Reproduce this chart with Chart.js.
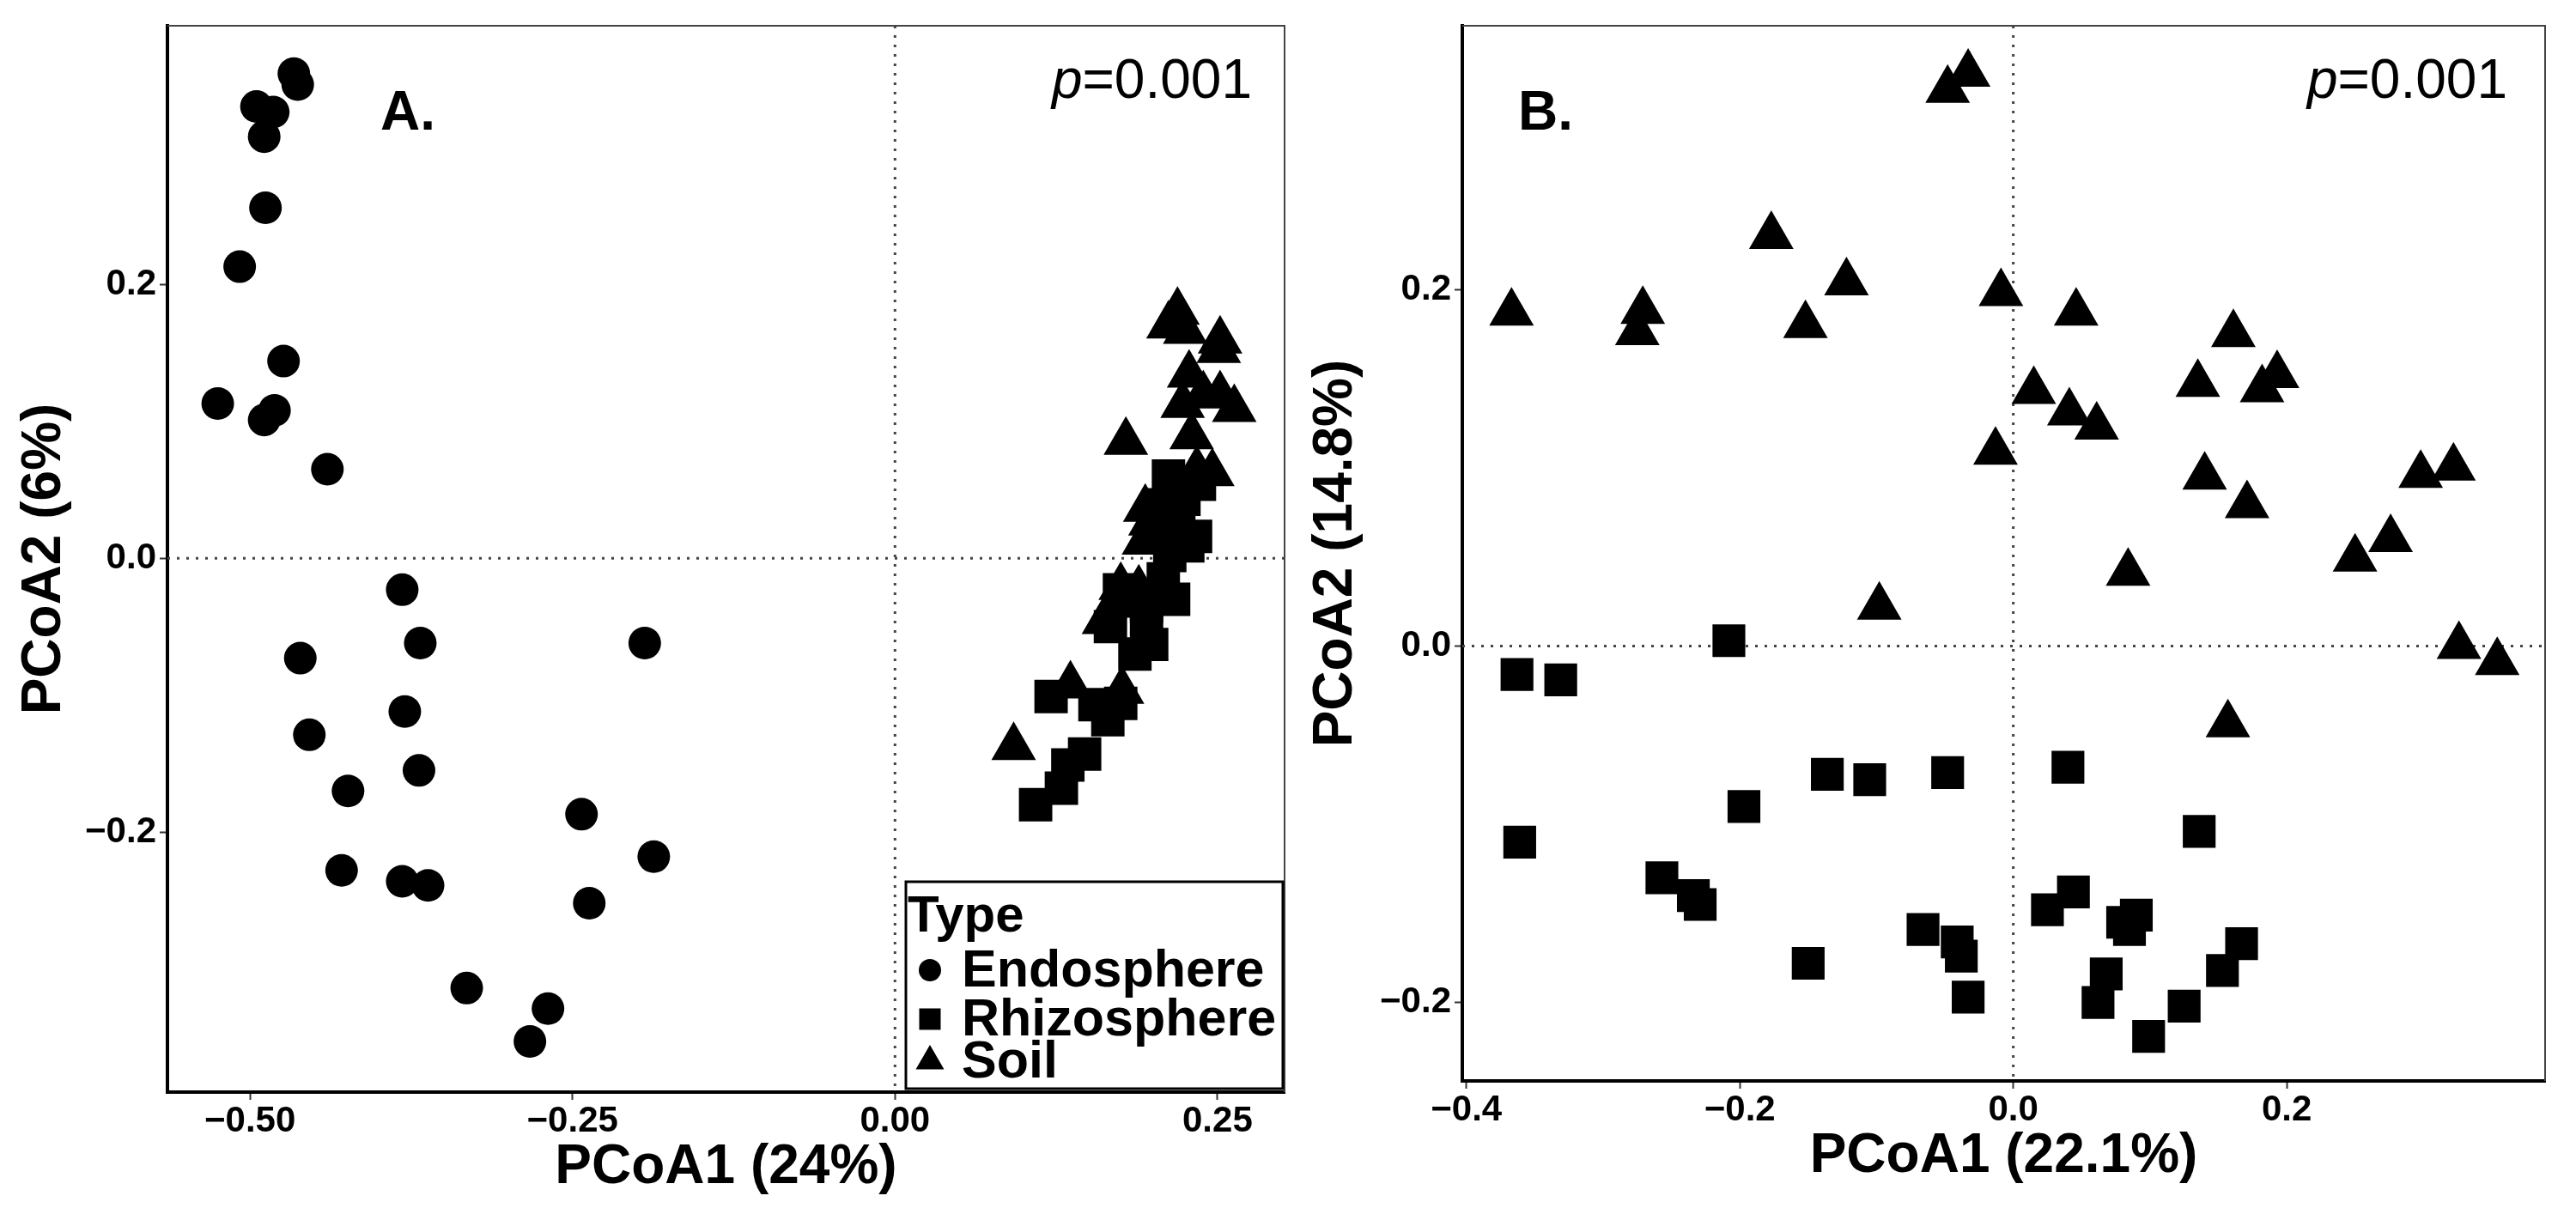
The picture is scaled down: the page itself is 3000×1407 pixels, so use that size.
<!DOCTYPE html>
<html>
<head>
<meta charset="utf-8">
<script src="https://cdn.jsdelivr.net/npm/chart.js@4.4.0/dist/chart.umd.min.js"></script>
<style>
  html, body { margin: 0; padding: 0; background: #fff; }
  #wrap { position: relative; width: 3000px; height: 1407px; }
  #wrap canvas { position: absolute; left: 0; top: 0; }
</style>
</head>
<body>
<div id="wrap">
  <canvas id="chartA" width="3000" height="1407"></canvas>
  <canvas id="chartB" width="3000" height="1407"></canvas>
</div>
<script>
// --- data ---
const typeNames = ['Endosphere', 'Rhizosphere', 'Soil'];

// Panel A
const endoAx = [-0.466, -0.463, -0.495, -0.482, -0.489, -0.488, -0.508, -0.474, -0.525, -0.481, -0.489, -0.440, -0.382, -0.368, -0.194,
  -0.461, -0.380, -0.454, -0.369, -0.424, -0.243, -0.187, -0.429, -0.382, -0.362, -0.237, -0.332, -0.269, -0.283];
const endoAy = [0.354, 0.346, 0.330, 0.326, 0.308, 0.256, 0.213, 0.144, 0.113, 0.108, 0.101, 0.065, -0.023, -0.062, -0.062,
  -0.073, -0.112, -0.129, -0.155, -0.170, -0.187, -0.218, -0.228, -0.236, -0.239, -0.252, -0.314, -0.329, -0.353];
const rhizoAx = [0.212, 0.236, 0.233, 0.227, 0.208, 0.216, 0.174, 0.195, 0.167, 0.206, 0.220, 0.206, 0.213, 0.224, 0.195,
  0.186, 0.199, 0.121, 0.155, 0.175, 0.165, 0.147, 0.134, 0.129, 0.109];
const rhizoAy = [0.060, 0.054, 0.016, 0.009, -0.015, -0.030, -0.023, -0.035, -0.050, 0.039, 0.033, 0.016, 0.002, 0.043, -0.046,
  -0.070, -0.063, -0.101, -0.107, -0.106, -0.118, -0.143, -0.151, -0.168, -0.180];
const soilAx = [0.219, 0.212, 0.225, 0.252, 0.251, 0.228, 0.239, 0.252, 0.263, 0.223, 0.230, 0.179, 0.234, 0.194, 0.198,
  0.193, 0.175, 0.189, 0.171, 0.246, 0.136, 0.176, 0.092, 0.162];
const soilAy = [0.180, 0.170, 0.166, 0.159, 0.152, 0.134, 0.119, 0.119, 0.109, 0.112, 0.089, 0.085, 0.064, 0.036, 0.026,
  0.012, -0.021, -0.023, -0.034, 0.062, -0.093, -0.097, -0.138, -0.046];

// Panel B
const rhizoBx = [-0.208, -0.363, -0.331, -0.136, -0.105, -0.048, 0.040, -0.197, 0.136, -0.361, -0.257, -0.234, -0.229, 0.044, 0.025,
  0.090, 0.080, 0.085, -0.066, -0.041, -0.038, 0.167, -0.150, 0.153, 0.068, -0.033, 0.062, 0.125, 0.099];
const rhizoBy = [0.003, -0.016, -0.019, -0.072, -0.075, -0.071, -0.068, -0.090, -0.104, -0.110, -0.130, -0.140, -0.145, -0.138, -0.148,
  -0.151, -0.155, -0.159, -0.159, -0.166, -0.174, -0.167, -0.178, -0.182, -0.184, -0.197, -0.200, -0.202, -0.219];
const soilBx = [-0.033, -0.048, -0.177, -0.122, -0.009, -0.367, -0.271, -0.275, -0.152, 0.046, 0.161, 0.135, 0.193, 0.182, 0.015,
  0.041, 0.061, -0.013, 0.140, 0.171, 0.298, 0.322, 0.276, 0.250, 0.084, -0.098, 0.326, 0.354, 0.157];
const soilBy = [0.321, 0.312, 0.230, 0.204, 0.198, 0.187, 0.188, 0.176, 0.180, 0.187, 0.175, 0.147, 0.152, 0.144, 0.143,
  0.131, 0.123, 0.109, 0.095, 0.079, 0.096, 0.100, 0.060, 0.049, 0.041, 0.022, 0.000, -0.009, -0.044];

// axes
const xLimA = [-0.564, 0.302];
const yLimA = [-0.390, 0.389];
const xTicksA = [-0.5, -0.25, 0, 0.25];
const xTickLabelsA = ['\u22120.50', '\u22120.25', '0.00', '0.25'];
const yTicksA = [-0.2, 0, 0.2];
const yTickLabelsA = ['\u22120.2', '0.0', '0.2'];

const xLimB = [-0.403, 0.389];
const yLimB = [-0.244, 0.348];
const xTicksB = [-0.4, -0.2, 0, 0.2];
const xTickLabelsB = ['\u22120.4', '\u22120.2', '0.0', '0.2'];
const yTicksB = [-0.2, 0, 0.2];
const yTickLabelsB = ['\u22120.2', '0.0', '0.2'];

const FONT = "'Liberation Sans', Arial, Helvetica, sans-serif";
Chart.defaults.font.family = FONT;
Chart.defaults.color = '#000';

const pts = (xs, ys) => xs.map((x, i) => ({ x: x, y: ys[i] }));

function series(label, data, style, radius) {
  return {
    label: label,
    data: data,
    pointStyle: style,
    pointRadius: radius,
    pointHoverRadius: radius,
    pointBorderWidth: 0,
    backgroundColor: '#000',
    borderColor: '#000'
  };
}

function axis(lim, ticks, labels, title, vertical, fitSize) {
  return {
    type: 'linear',
    bounds: 'data',
    min: lim[0],
    max: lim[1],
    afterBuildTicks: s => { s.ticks = ticks.map(v => ({ value: v })); },
    afterFit: s => { if (vertical) s.width = fitSize; else s.height = fitSize; },
    ticks: {
      autoSkip: false,
      maxRotation: 0,
      padding: vertical ? 4 : 0,
      color: '#000',
      font: { size: 42, weight: 'bold' },
      callback: (v, i) => labels[i]
    },
    grid: {
      display: true,
      drawOnChartArea: false,
      drawTicks: true,
      tickLength: 9,
      tickColor: '#333',
      tickWidth: 2
    },
    border: { display: true, color: '#000', width: 4 },
    title: {
      display: true,
      text: title,
      color: '#000',
      font: { size: 64, weight: 'bold' },
      padding: vertical ? { top: 14, bottom: 0 } : { top: 0, bottom: 8.6 }
    }
  };
}

// zero reference lines, frame, panel letter, p value and legend
const panelDeco = {
  id: 'panelDeco',
  beforeDatasetsDraw(chart, args, o) {
    const { ctx, chartArea: a, scales } = chart;
    const x0 = scales.x.getPixelForValue(0);
    const y0 = scales.y.getPixelForValue(0);
    ctx.save();
    ctx.strokeStyle = '#444';
    ctx.lineWidth = 3;
    ctx.setLineDash([3, 8]);
    ctx.beginPath();
    ctx.moveTo(x0, a.top); ctx.lineTo(x0, a.bottom);
    ctx.moveTo(a.left, y0); ctx.lineTo(a.right, y0);
    ctx.stroke();
    ctx.restore();
  },
  afterDraw(chart, args, o) {
    const { ctx, chartArea: a } = chart;
    ctx.save();
    // thin frame on the top and right
    ctx.strokeStyle = '#444';
    ctx.lineWidth = 2;
    ctx.beginPath();
    ctx.moveTo(a.left, a.top); ctx.lineTo(a.right, a.top); ctx.lineTo(a.right, a.bottom);
    ctx.stroke();

    ctx.fillStyle = '#000';
    ctx.textBaseline = 'alphabetic';
    // panel letter
    ctx.textAlign = 'left';
    ctx.font = 'bold 64px ' + FONT;
    ctx.fillText(o.letter, a.left + o.letterDx, a.top + 121);

    // p = 0.001, right aligned
    ctx.font = '64px ' + FONT;
    const rest = '=0.001';
    const wRest = ctx.measureText(rest).width;
    ctx.font = 'italic 64px ' + FONT;
    const wP = ctx.measureText('p').width;
    const xEnd = a.right - o.pDx;
    ctx.fillText('p', xEnd - wRest - wP, a.top + 84);
    ctx.font = '64px ' + FONT;
    ctx.fillText(rest, xEnd - wRest, a.top + 84);

    if (o.legend) {
      const bw = 439, bh = 241;
      const bx = a.right - 2 - bw, by = a.bottom - 4 - bh;
      ctx.fillStyle = '#fff';
      ctx.fillRect(bx, by, bw, bh);
      ctx.strokeStyle = '#000';
      ctx.lineWidth = 3;
      ctx.strokeRect(bx, by, bw, bh);
      ctx.fillStyle = '#000';
      ctx.textBaseline = 'middle';
      ctx.font = 'bold 60px ' + FONT;
      ctx.fillText('Type', bx + 2, by + 41);
      ctx.font = 'bold 61px ' + FONT;
      const rows = [by + 103, by + 160, by + 209];
      const mx = bx + 28;
      rows.forEach((ry, i) => {
        ctx.beginPath();
        if (i === 0) {
          ctx.arc(mx, ry, 13, 0, Math.PI * 2);
        } else if (i === 1) {
          ctx.rect(mx - 12.5, ry - 12.5, 25, 25);
        } else {
          ctx.moveTo(mx, ry - 19);
          ctx.lineTo(mx + 16.5, ry + 9.5);
          ctx.lineTo(mx - 16.5, ry + 9.5);
          ctx.closePath();
        }
        ctx.fill();
        ctx.fillText(typeNames[i], bx + 65, ry + 2);
      });
    }
    ctx.restore();
  }
};

function baseOptions(pad, yWidth, xLim, yLim, xT, xL, yT, yL, xTitle, yTitle, deco) {
  return {
    responsive: false,
    maintainAspectRatio: false,
    devicePixelRatio: 1,
    animation: false,
    events: [],
    layout: { padding: pad },
    scales: {
      x: axis(xLim, xT, xL, xTitle, false, 135),
      y: axis(yLim, yT, yL, yTitle, true, yWidth)
    },
    plugins: {
      legend: { display: false },
      tooltip: { enabled: false },
      panelDeco: deco
    }
  };
}

new Chart(document.getElementById('chartA'), {
  type: 'scatter',
  data: {
    datasets: [
      series(typeNames[0], pts(endoAx, endoAy), 'circle', 19),
      series(typeNames[1], pts(rhizoAx, rhizoAy), 'rect', 27.5),
      series(typeNames[2], pts(soilAx, soilAy), 'triangle', 30)
    ]
  },
  options: baseOptions({ left: 0, top: 20, right: 1504, bottom: 0 }, 195,
    xLimA, yLimA, xTicksA, xTickLabelsA, yTicksA, yTickLabelsA,
    'PCoA1 (24%)', 'PCoA2 (6%)', { letter: 'A.', letterDx: 248, pDx: 38, legend: true }),
  plugins: [panelDeco]
});

new Chart(document.getElementById('chartB'), {
  type: 'scatter',
  data: {
    datasets: [
      series(typeNames[1], pts(rhizoBx, rhizoBy), 'rect', 27),
      series(typeNames[2], pts(soilBx, soilBy), 'triangle', 30)
    ]
  },
  options: baseOptions({ left: 1504, top: 22, right: 36, bottom: 13 }, 199,
    xLimB, yLimB, xTicksB, xTickLabelsB, yTicksB, yTickLabelsB,
    'PCoA1 (22.1%)', 'PCoA2 (14.8%)', { letter: 'B.', letterDx: 65, pDx: 44, legend: false }),
  plugins: [panelDeco]
});
</script>
</body>
</html>
